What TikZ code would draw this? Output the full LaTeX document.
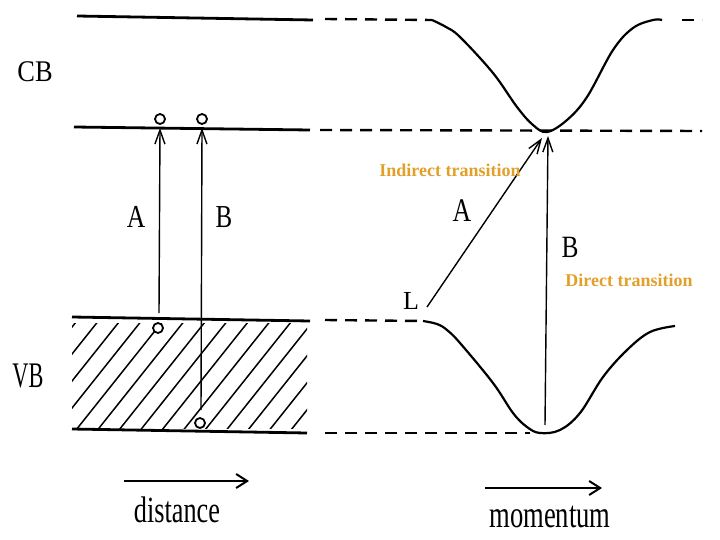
\documentclass[tikz,border=0pt]{standalone}
\usepackage{fontspec}
\setmainfont{Liberation Serif}
\usetikzlibrary{arrows.meta}
\definecolor{orng}{RGB}{226,160,42}
\begin{document}
\begin{tikzpicture}[x=1pt,y=-1pt,
  band/.style={line width=2.8pt},
  dband/.style={line width=2.4pt, dash pattern=on 12pt off 8pt},
  curve/.style={line width=2.2pt},
  trans/.style={line width=1.4pt, -{Straight Barb[length=14pt,width=10pt,line width=1.4pt]}},
  axisarrow/.style={line width=2.2pt, -{Straight Barb[length=11pt,width=14pt,line width=2pt]}},
  hole/.style={circle, draw, line width=1.8pt, minimum size=10pt, inner sep=0pt, fill=white},
  lbl/.style={font=\fontsize{#1}{#1}\selectfont, inner sep=0pt, anchor=base},
  note/.style={text=orng, font=\bfseries\fontsize{18}{18}\selectfont, inner sep=0pt, anchor=base},
  hatch/.style={line width=1.5pt}
]
\useasboundingbox (0,0) rectangle (720,540);

% ---- left: real space ----
\draw[band] (77,16) -- (313,20);
\draw[band] (74,127) -- (310,130);
\draw[band] (72,317) -- (310,321);
\draw[band] (72,429) -- (307,433);
\begin{scope}
  \clip (72,323) rectangle (307,428);
  \foreach \i in {0,...,16} { \draw[hatch] ({-10+\i*21.5},430) -- ++(86,-108); }
\end{scope}

% transitions (left)
\coordinate (lA0) at (159,313);
\coordinate (lA1) at (160,128);
\coordinate (lB0) at (201,410);
\coordinate (lB1) at (202,128);
\draw[trans] (lA0) -- (lA1);
\draw[trans] (lB0) -- (lB1);
\node[hole] (h1) at (160,119) {};
\node[hole] (h2) at (202,119) {};
\node[hole] (h3) at (158,328) {};
\node[hole] (h4) at (200,423) {};

% ---- right: momentum space ----
\draw[dband] (325,19) -- (432,20);
\draw[curve] plot[smooth, tension=0.6] coordinates {(432,20) (446,27) (460,37) (493,73) (517,107) (533,125) (547,132) (567,120) (587,97) (613,50) (633,28) (653,20) (662,20)};
\draw[dband] (682,20) -- (702,20);
\draw[dband] (320,130) -- (702,131);
\draw[dband] (325,320) -- (423,321);
\draw[curve] plot[smooth, tension=0.6] coordinates {(423,321) (437,324) (447,330) (460,343) (493,383) (513,413) (527,427) (540,433) (560,430) (580,413) (603,377) (627,350) (650,332) (675,326)};
\draw[dband] (325,433) -- (530,433);

\coordinate (rL) at (427,307);
\coordinate (rT1) at (542,138);
\coordinate (rB0) at (545,425);
\coordinate (rT2) at (548,136);
\draw[trans] (rL) -- (rT1);
\draw[trans] (rB0) -- (rT2);

% axes
\coordinate (d0) at (124,481);
\coordinate (d1) at (249,481);
\coordinate (m0) at (485,488);
\coordinate (m1) at (602,488);
\draw[axisarrow] (d0) -- (d1);
\draw[axisarrow] (m0) -- (m1);

% labels
\node[lbl=30, xscale=0.88] (cb) at (35,82) {CB};
\node[lbl=36, xscale=0.62] (vb) at (28,387) {VB};
\node[lbl=32, xscale=0.8] (la) at (136,228) {A};
\node[lbl=32, xscale=0.78] (lb) at (224,228) {B};
\node[lbl=33, xscale=0.78] (ra) at (462,222) {A};
\node[lbl=31, xscale=0.82] (rb) at (570,258) {B};
\node[lbl=26] (rl) at (411,309) {L};
\node[lbl=37, xscale=0.71] (dist) at (177,522) {distance};
\node[lbl=38, xscale=0.7] (mom) at (550,527) {momentum};
\node[note] (ind) at (450,177) {Indirect transition};
\node[note] (dir) at (629,286) {Direct transition};
\end{tikzpicture}
\end{document}
